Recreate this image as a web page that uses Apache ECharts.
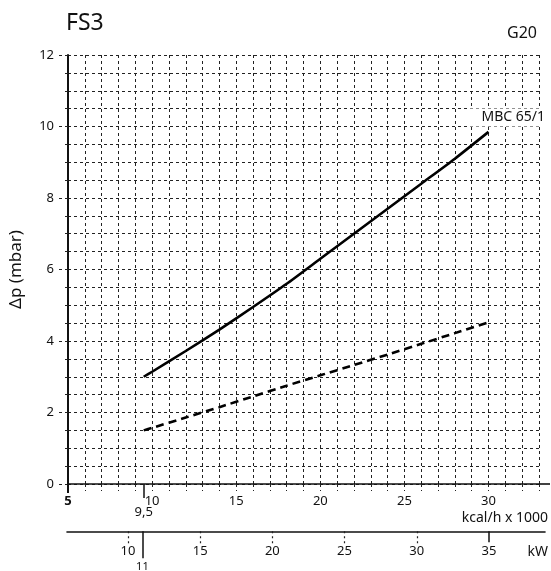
<!DOCTYPE html>
<html>
<head>
<meta charset="utf-8">
<script src="https://cdn.jsdelivr.net/npm/echarts@6/dist/echarts.min.js"></script>
<style>
html,body{margin:0;padding:0;background:#fff;}
#chart{width:551px;height:571px;}
</style>
</head>
<body>
<div id="chart"></div>
<script>
// ---- data ----
const flowKcal = [9.5, 10, 12, 14, 16, 18, 20, 22, 24, 26, 28, 30];
const dpSolid  = [3.0, 3.14, 3.72, 4.32, 4.95, 5.6, 6.3, 7.0, 7.7, 8.4, 9.1, 9.85];
const dpDashed = [1.5, 1.57, 1.86, 2.15, 2.45, 2.75, 3.04, 3.33, 3.62, 3.92, 4.22, 4.52];
const kcalLabels = [5, 10, 15, 20, 25, 30];
const kcalMark = [9.5];
const kwDottedTicks = [10, 15, 20, 25, 30];
const kwLabels = [10, 15, 20, 25, 30, 35];
const kwSolidTick = [35];
const kwMark = [11];
const yRange = [0, 12];
const xRange = [5, 33];
const kwRange = [5.78, 38.88];

const FONT = '"Noto Sans", sans-serif';
const INK = '#111';
const dotted = {color: '#222', width: 1, type: [3, 3]};

const chart = echarts.init(document.getElementById('chart'), null, {renderer: 'canvas'});

const noLine = {show: false};
const noSplit = {show: false};

const option = {
  animation: false,
  backgroundColor: '#fff',
  textStyle: {fontFamily: FONT, color: INK},
  grid: [
    {left: 67, top: 55, width: 472, height: 429, containLabel: false},
    {left: 67, top: 531, width: 478, height: 1, containLabel: false}
  ],
  xAxis: [
    { // main kcal axis
      type: 'value', gridIndex: 0, position: 'bottom',
      min: xRange[0], max: xRange[1], interval: 1,
      axisLine: {show: true, onZero: false, lineStyle: {color: INK, width: 1.6}},
      axisTick: {show: true, length: 7, lineStyle: dotted},
      splitLine: {show: true, lineStyle: dotted},
      axisLabel: {
        customValues: kcalLabels, margin: 11, fontSize: 13, color: INK, fontFamily: FONT,
        formatter: v => v === 5 ? '{b|5}' : String(v),
        rich: {b: {fontWeight: 'bold', fontSize: 13, fontFamily: FONT, color: INK}}
      }
    },
    { // solid extension of y axis below
      type: 'value', gridIndex: 0, position: 'bottom',
      min: xRange[0], max: xRange[1],
      axisLine: noLine, splitLine: noSplit,
      axisTick: {show: true, customValues: [xRange[0]], length: 9, lineStyle: {color: INK, width: 2}},
      axisLabel: {show: false}
    },
    { // 9,5 mark
      type: 'value', gridIndex: 0, position: 'bottom',
      min: xRange[0], max: xRange[1],
      axisLine: noLine, splitLine: noSplit,
      axisTick: {show: true, customValues: kcalMark, length: 14, lineStyle: {color: INK, width: 1.5}},
      axisLabel: {show: true, customValues: kcalMark, margin: 22, fontSize: 13, color: INK, fontFamily: FONT,
        formatter: v => String(v).replace('.', ',')}
    },
    { // kW axis
      type: 'value', gridIndex: 1, position: 'bottom',
      min: kwRange[0], max: kwRange[1],
      axisLine: {show: true, onZero: false, lineStyle: {color: INK, width: 1.6}},
      axisTick: {show: true, customValues: kwDottedTicks, length: 15, lineStyle: {color: '#222', width: 1.2, type: [2, 3]}},
      splitLine: noSplit,
      axisLabel: {show: true, customValues: kwLabels, margin: 14, fontSize: 13, color: INK, fontFamily: FONT}
    },
    { // solid tick at 35 kW
      type: 'value', gridIndex: 1, position: 'bottom',
      min: kwRange[0], max: kwRange[1],
      axisLine: noLine, splitLine: noSplit,
      axisTick: {show: true, customValues: kwSolidTick, length: 11, lineStyle: {color: INK, width: 1.5}},
      axisLabel: {show: false}
    },
    { // 11 kW mark
      type: 'value', gridIndex: 1, position: 'bottom',
      min: kwRange[0], max: kwRange[1],
      axisLine: noLine, splitLine: noSplit,
      axisTick: {show: true, customValues: kwMark, length: 27, lineStyle: {color: INK, width: 1.5}},
      axisLabel: {show: true, customValues: kwMark, margin: 30, fontSize: 11, color: INK, fontFamily: FONT}
    }
  ],
  yAxis: [
    {
      type: 'value', gridIndex: 0, min: yRange[0], max: yRange[1], interval: 2,
      name: 'Δp (mbar)', nameLocation: 'middle', nameGap: 43, nameRotate: 90,
      nameTextStyle: {fontSize: 17, color: INK, fontFamily: FONT},
      axisLine: {show: true, onZero: false, lineStyle: {color: INK, width: 2}},
      axisTick: {show: true, length: 10, lineStyle: dotted},
      minorTick: {show: true, splitNumber: 4, length: 5, lineStyle: dotted},
      splitLine: {show: true, lineStyle: dotted},
      minorSplitLine: {show: true, lineStyle: dotted},
      axisLabel: {margin: 14, fontSize: 13, color: INK, fontFamily: FONT}
    },
    { // solid tick at 0
      type: 'value', gridIndex: 0, min: yRange[0], max: yRange[1],
      axisLine: noLine, splitLine: noSplit,
      axisTick: {show: true, customValues: [yRange[0]], length: 11, lineStyle: {color: INK, width: 1.6}},
      axisLabel: {show: false}
    },
    {
      type: 'value', gridIndex: 1, min: 0, max: 1, show: false
    }
  ],
  graphic: [
    {type: 'text', style: {text: 'FS3', x: 66, y: 23, font: '23px ' + FONT, fill: INK, align: 'left', verticalAlign: 'middle'}},
    {type: 'text', style: {text: 'G20', x: 537, y: 33, font: '16px ' + FONT, fill: INK, align: 'right', verticalAlign: 'middle'}},
    {type: 'text', z: 10, style: {text: 'MBC 65/1', x: 545, y: 117.5, font: '14px ' + FONT, fill: INK, align: 'right', verticalAlign: 'middle',
      lineHeight: 14, backgroundColor: '#fff', padding: [4, 0, 0, 12]}},
    {type: 'text', style: {text: 'kcal/h x 1000', x: 548, y: 518, font: '14px ' + FONT, fill: INK, align: 'right', verticalAlign: 'middle'}},
    {type: 'text', style: {text: 'kW', x: 548, y: 552, font: '14px ' + FONT, fill: INK, align: 'right', verticalAlign: 'middle'}}
  ],
  series: [
    {
      type: 'line', xAxisIndex: 0, yAxisIndex: 0,
      data: flowKcal.map((x, i) => [x, dpSolid[i]]),
      showSymbol: false, smooth: 0.2,
      lineStyle: {color: '#000', width: 2.6, type: 'solid'}
    },
    {
      type: 'line', xAxisIndex: 0, yAxisIndex: 0,
      data: flowKcal.map((x, i) => [x, dpDashed[i]]),
      showSymbol: false, smooth: 0.2,
      lineStyle: {color: '#000', width: 2.6, type: [8, 5]}
    }
  ]
};
chart.setOption(option);
</script>
</body>
</html>
